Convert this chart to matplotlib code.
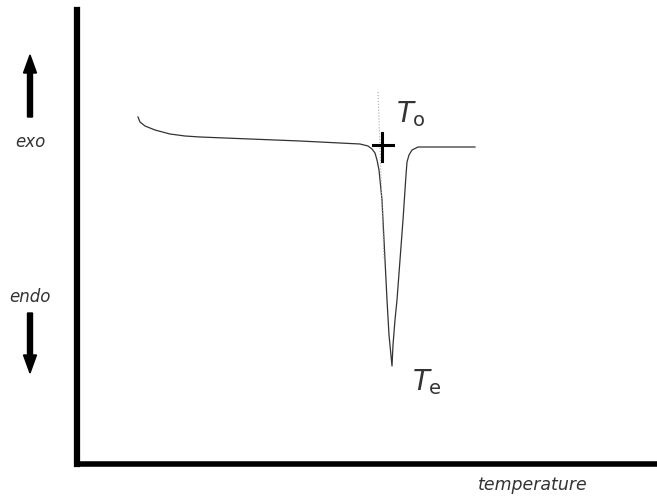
import matplotlib
matplotlib.use("Agg")
import matplotlib.pyplot as plt
from matplotlib.patches import FancyArrow
from matplotlib.transforms import IdentityTransform

# DSC-style curve: temperature (arb.) vs heat flow (arb.)
temp = [61, 63, 68, 78, 93, 108, 123, 173, 223, 263, 283, 291, 295, 298, 300,
        302, 303, 305, 307, 310, 312, 315, 316, 318, 320, 323, 326, 328, 329,
        330, 332, 335, 341, 353, 398]
flow = [347, 342, 338, 334, 330, 328, 327, 325, 323, 321, 320, 318, 315, 311,
        304, 294, 284, 264, 224, 164, 129, 98, 119, 144, 164, 204, 244, 274,
        289, 302, 309, 314, 317, 317, 317]

# extrapolated onset line and onset marker
onset_x = [301, 307]
onset_y = [372, 204]
mark_x, mark_y = 305, 319

plt.rcParams['font.family'] = ['DejaVu Sans']
plt.rcParams['mathtext.fontset'] = 'dejavusans'

fig = plt.figure(figsize=(6.57, 4.96), dpi=100)
ax = fig.add_axes([77/657, 32/496, 580/657, 454/496])
ax.set_xlim(0, 580)
ax.set_ylim(0, 454)

ax.plot(temp, flow, color='#333333', lw=0.9)
ax.plot(onset_x, onset_y, color='#aaaaaa', lw=0.8, ls=':')
ax.plot([mark_x - 9, mark_x + 11], [mark_y, mark_y], color='black', lw=2.2)
ax.plot([mark_x, mark_x], [mark_y - 16, mark_y + 12], color='black', lw=2.2)

for s in ['top', 'right']:
    ax.spines[s].set_visible(False)
ax.spines['left'].set_linewidth(4.5)
ax.spines['bottom'].set_linewidth(4)
ax.set_xticks([])
ax.set_yticks([])

# labels
lab = dict(color='#333333', fontweight='light')
ax.text(319, 342, r'$T_{\mathrm{o}}$', fontsize=20, ha='left', va='baseline', color='#333333')
ax.text(335, 74, r'$T_{\mathrm{e}}$', fontsize=20, ha='left', va='baseline', color='#333333')

t = IdentityTransform()
fig.text(30/657, 1 - 142/496, 'exo', fontsize=12, style='italic', ha='center', va='center', **lab)
fig.text(30/657, 1 - 297/496, 'endo', fontsize=12, style='italic', ha='center', va='center', **lab)
fig.text(533/657, 1 - 485/496, 'temperature', fontsize=12.5, style='italic', ha='center', va='center', **lab)

fig.add_artist(FancyArrow(30, 496 - 117, 0, 62, width=5, head_width=13, head_length=18,
                          length_includes_head=True, color='black', transform=t))
fig.add_artist(FancyArrow(30, 496 - 313, 0, -60, width=5, head_width=13, head_length=18,
                          length_includes_head=True, color='black', transform=t))

fig.savefig('out.png', dpi=100)
